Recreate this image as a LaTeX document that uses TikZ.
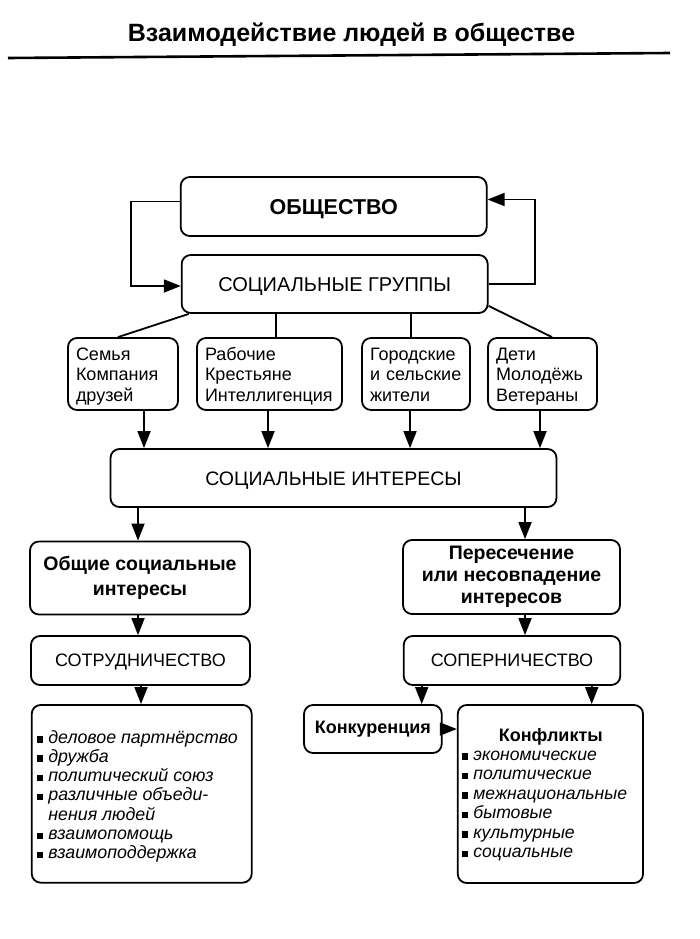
\documentclass[tikz,border=0pt]{standalone}
\usepackage{fontspec}
\setmainfont{Liberation Sans}
\usetikzlibrary{arrows.meta}
\newcommand\bulsq{\rule[0.5pt]{6.5pt}{6.5pt}\hspace{5pt}}
\newcommand\tstr{\rule{0pt}{17.6pt}}
\newcommand\bstr{\rule[-4pt]{0pt}{4pt}}
\begin{document}
\begin{tikzpicture}[x=1pt,y=-1pt,
  box/.style={draw, line width=1.8pt, rounded corners=9pt, inner sep=0pt, align=center},
  grp/.style={box, align=left, minimum height=72pt, font=\fontsize{18}{20.8}\selectfont},
  conn/.style={line width=1.8pt},
  arr/.style={line width=1.8pt, -{Triangle[length=17pt,width=13pt]}},
  rule/.style={line width=2.6pt},
  txt/.style={inner sep=0pt}]
\useasboundingbox (0,0) rectangle (700,939);

% title
\node[txt, anchor=base, font=\fontsize{25}{29}\selectfont\bfseries] (title) at (351.5,42) {Взаимодействие людей в обществе};
\coordinate (rl) at (8,58);
\coordinate (rr) at (670,53);
\draw[rule] (rl) -- (rr);

% boxes
\node[box, minimum width=306pt, minimum height=59pt, font=\fontsize{21.5}{25}\selectfont\bfseries, text height=15.4pt, text depth=0pt] (obsh) at (333.7,206.5) {ОБЩЕСТВО};
\node[box, minimum width=306pt, minimum height=58pt, font=\fontsize{20}{24}\selectfont, text height=14.3pt, text depth=0pt] (sg) at (334.7,284) {СОЦИАЛЬНЫЕ ГРУППЫ};

\node[grp, minimum width=110pt, text width=94pt] (g1) at (123,374) {\tstr Семья\\Компания\\\bstr друзей};
\node[grp, minimum width=145pt, text width=129pt] (g2) at (269.5,374) {\tstr Рабочие\\Крестьяне\\\bstr Интеллигенция};
\node[grp, minimum width=108pt, text width=92pt] (g3) at (416,374) {\tstr Городские\\и сельские\\\bstr жители};
\node[grp, minimum width=109pt, text width=93pt] (g4) at (542.5,374) {\tstr Дети\\Молодёжь\\\bstr Ветераны};

\node[box, minimum width=446pt, minimum height=58pt, font=\fontsize{19.5}{24}\selectfont, text height=14pt, text depth=0pt] (si) at (333.5,478) {СОЦИАЛЬНЫЕ ИНТЕРЕСЫ};

\node[box, minimum width=220pt, minimum height=73pt, font=\fontsize{19.5}{25}\selectfont\bfseries] (common) at (140,578) {Общие социальные\\интересы};
\node[box, minimum width=217pt, minimum height=74pt, font=\fontsize{19.5}{22}\selectfont\bfseries] (cross) at (511.5,577) {Пересечение\\или несовпадение\\интересов};

\node[box, minimum width=219pt, minimum height=49pt, font=\fontsize{18}{22}\selectfont, text height=12.9pt, text depth=0pt] (coop) at (140.5,660.5) {СОТРУДНИЧЕСТВО};
\node[box, minimum width=216.5pt, minimum height=49pt, font=\fontsize{18}{22}\selectfont, text height=12.9pt, text depth=0pt] (rival) at (512,660.5) {СОПЕРНИЧЕСТВО};

\node[box, minimum width=220pt, minimum height=177.7pt] (list1) at (141.7,793.8) {};
\node[box, minimum width=137.7pt, minimum height=48pt, font=\fontsize{18}{21}\selectfont\bfseries] (konk) at (372.9,729) {Конкуренция};
\node[box, minimum width=185.3pt, minimum height=178pt] (konf) at (550.4,794) {};

% list texts
\node[txt, anchor=base west, font=\fontsize{17.8}{19.3}\selectfont] (list1txt) at (36.7,743) {\parbox[t]{215pt}{\bulsq\textit{деловое партнёрство}\\
\bulsq\textit{дружба}\\
\bulsq\textit{политический союз}\\
\bulsq\textit{различные объеди-}\\
\hspace*{11.5pt}\textit{нения людей}\\
\bulsq\textit{взаимопомощь}\\
\bulsq\textit{взаимоподдержка}}};

\node[txt, anchor=base, font=\fontsize{18}{21}\selectfont\bfseries] (konftitle) at (550.8,741.7) {Конфликты};
\node[txt, anchor=base west, font=\fontsize{17.6}{19.5}\selectfont] (konftxt) at (461.7,760) {\parbox[t]{180pt}{\bulsq\textit{экономические}\\
\bulsq\textit{политические}\\
\bulsq\textit{межнациональные}\\
\bulsq\textit{бытовые}\\
\bulsq\textit{культурные}\\
\bulsq\textit{социальные}}};

% connector x positions
\coordinate (l2) at (276,0);
\coordinate (l3) at (411,0);
\coordinate (a1) at (144,0);
\coordinate (a2) at (268,0);
\coordinate (a3) at (410,0);
\coordinate (a4) at (540,0);
\coordinate (b1) at (138,0);
\coordinate (b2) at (525,0);
\coordinate (c1) at (141,0);
\coordinate (d1) at (421.7,0);
\coordinate (d2) at (591.7,0);

% loops
\draw[arr] ([yshift=5pt]obsh.west) -- ++(-49,0) |- ([yshift=-2pt]sg.west);
\draw[arr] (sg.east) -- ++(46,0) |- ([yshift=7pt]obsh.east);

% social groups to groups
\draw[conn] ([xshift=8pt]sg.south west) -- ([xshift=-5pt]g1.north);
\draw[conn] (l2 |- sg.south) -- (l2 |- g2.north);
\draw[conn] (l3 |- sg.south) -- (l3 |- g3.north);
\draw[conn] ([yshift=8pt]sg.south east) -- ([xshift=9.5pt]g4.north);

% groups to interests
\draw[arr] (a1 |- g1.south) -- (a1 |- si.north);
\draw[arr] (a2 |- g2.south) -- (a2 |- si.north);
\draw[arr] (a3 |- g3.south) -- (a3 |- si.north);
\draw[arr] (a4 |- g4.south) -- (a4 |- si.north);

\draw[arr] (b1 |- si.south) -- (b1 |- common.north);
\draw[arr] (b2 |- si.south) -- (b2 |- cross.north);
\draw[arr] (b1 |- common.south) -- (b1 |- coop.north);
\draw[arr] (b2 |- cross.south) -- (b2 |- rival.north);
\draw[arr] (c1 |- coop.south) -- (c1 |- list1.north);
\draw[arr] (d1 |- rival.south) -- (d1 |- konk.north);
\draw[arr] (d2 |- rival.south) -- (d2 |- konf.north);
\draw[arr] (konk.east) -- (konf.west |- konk.east);
\end{tikzpicture}
\end{document}
